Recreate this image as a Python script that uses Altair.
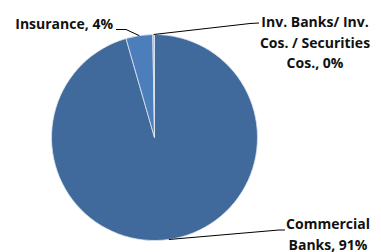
import math
import altair as alt
import pandas as pd

# ---- data ----
categories = ["Commercial Banks", "Insurance", "Inv. Banks/ Inv. Cos. / Securities Cos."]
values = [91, 4, 0.25]
pct_labels = ["91%", "4%", "0%"]
colors = ["#406A9B", "#4B7EBB", "#9DB5D9"]

label_lines = [
    ["Commercial", "Banks, 91%"],
    ["Insurance, 4%"],
    ["Inv. Banks/ Inv.", "Cos. / Securities", "Cos., 0%"],
]

# ---- layout (chart pixel space) ----
W, H = 365, 244
CX, CY, R = 146.5, 129.5, 103
label_anchor = [(320, 217, "center"), (105, 16.5, "right"), (307, 15, "center")]
line_gap = 20.5
elbow = [(271, 222), (118, 21.5), (242, 15.5)]
leader_end = [(277, 222), (108, 21.5), (251, 15)]

df = pd.DataFrame({"cat": categories, "val": values, "order": [0, 1, 2]})

pie = alt.Chart(df).mark_arc(stroke="#dfe6f0", strokeWidth=0.8).encode(
    theta=alt.Theta("val:Q", stack=True),
    order=alt.Order("order:Q"),
    color=alt.Color("cat:N", scale=alt.Scale(domain=categories, range=colors), legend=None),
    x=alt.value(CX),
    y=alt.value(CY),
    radius=alt.value(R),
)

# leader lines: start at each slice's mid-angle on the rim
total = sum(values)
rows = []
cum = 0.0
for i, v in enumerate(values):
    mid = (cum + v / 2) / total * 2 * math.pi
    cum += v
    sx = CX + R * math.sin(mid)
    sy = CY - R * math.cos(mid)
    pts = [(sx, sy), elbow[i], leader_end[i]]
    for k, (px, py) in enumerate(pts):
        rows.append({"cat": categories[i], "k": k, "px": px, "py": py})
ldf = pd.DataFrame(rows)

pxs = alt.Scale(domain=[0, W], range=[0, W])
pys = alt.Scale(domain=[0, H], range=[0, H])
leaders = alt.Chart(ldf).mark_line(color="black", strokeWidth=1).encode(
    x=alt.X("px:Q", scale=pxs, axis=None),
    y=alt.Y("py:Q", scale=pys, axis=None),
    detail="cat:N",
    order="k:Q",
)

trows = []
for i, lines in enumerate(label_lines):
    ax, ay, al = label_anchor[i]
    for j, t in enumerate(lines):
        trows.append({"t": t, "px": ax, "py": ay + j * line_gap, "al": al})
tdf = pd.DataFrame(trows)

texts = []
for al in ["center", "right"]:
    texts.append(
        alt.Chart(tdf[tdf.al == al]).mark_text(
            font="Open Sans", fontSize=14, fontWeight="bold", color="#111111",
            align=al, baseline="middle",
        ).encode(
            x=alt.X("px:Q", scale=pxs, axis=None),
            y=alt.Y("py:Q", scale=pys, axis=None),
            text="t:N",
        )
    )

chart = alt.layer(pie, leaders, *texts).properties(
    width=W, height=H, padding=0, autosize=alt.AutoSizeParams(type="none")
).configure_view(stroke=None)

chart.save("out.html", embed_options={"renderer": "svg", "actions": False})
